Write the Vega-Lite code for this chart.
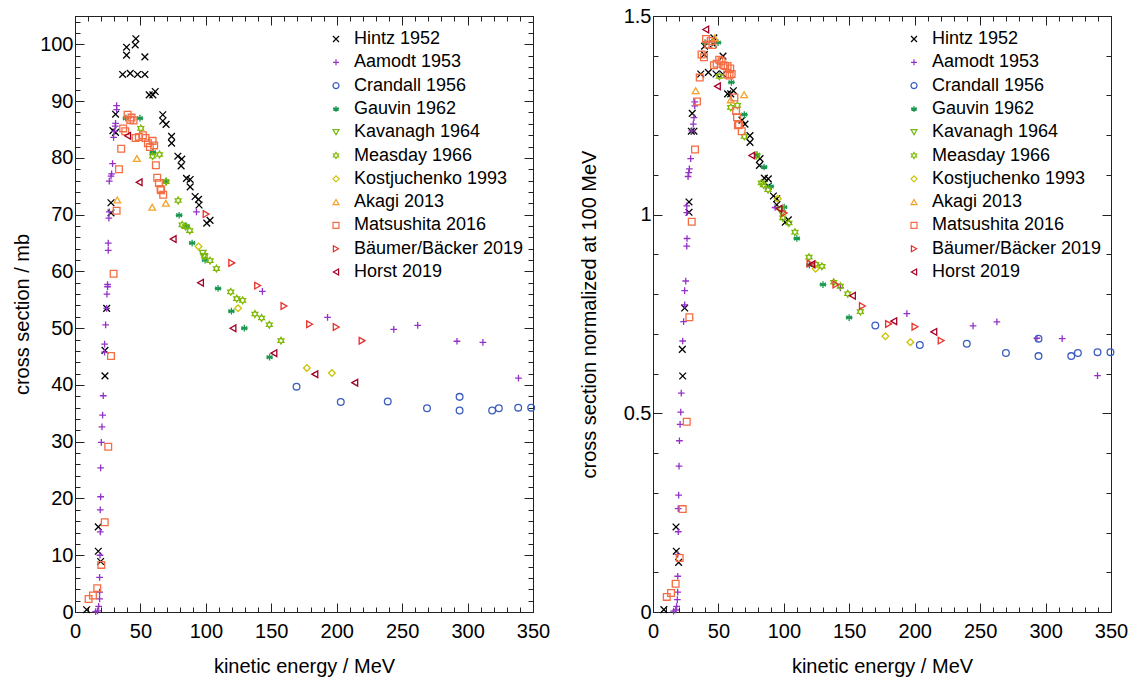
{
"$schema": "https://vega.github.io/schema/vega-lite/v6.json",
"padding": {"left": 12, "top": 5, "right": 5, "bottom": 5},
"config": {
  "font": "Liberation Sans",
  "view": {"stroke": "#222", "strokeWidth": 1},
  "axis": {"labelFont": "Liberation Sans", "titleFont": "Liberation Sans", "labelFontSize": 20, "titleFontSize": 20, "titleFontWeight": "normal", "labelColor": "#000", "titleColor": "#000", "domainColor": "#222", "tickColor": "#222", "grid": false, "labelOverlap": false, "labelFlush": false, "labelBound": false}
},
"datasets": {
"left": [
{"s":"Hintz 1952","E":8.9,"v":0.4},{"s":"Hintz 1952","E":17.8,"v":10.7},{"s":"Hintz 1952","E":17.8,"v":15.0},{"s":"Hintz 1952","E":19.6,"v":8.9},{"s":"Hintz 1952","E":22.9,"v":41.6},{"s":"Hintz 1952","E":22.9,"v":46.1},{"s":"Hintz 1952","E":24.2,"v":53.5},{"s":"Hintz 1952","E":27.5,"v":70.3},{"s":"Hintz 1952","E":27.5,"v":72.1},{"s":"Hintz 1952","E":29.0,"v":84.8},{"s":"Hintz 1952","E":31.0,"v":84.5},{"s":"Hintz 1952","E":31.0,"v":87.7},{"s":"Hintz 1952","E":36.4,"v":94.7},{"s":"Hintz 1952","E":39.4,"v":98.1},{"s":"Hintz 1952","E":39.4,"v":99.5},{"s":"Hintz 1952","E":42.2,"v":94.9},{"s":"Hintz 1952","E":46.0,"v":99.9},{"s":"Hintz 1952","E":46.5,"v":101.0},{"s":"Hintz 1952","E":47.8,"v":94.7},{"s":"Hintz 1952","E":53.4,"v":94.7},{"s":"Hintz 1952","E":53.4,"v":97.8},{"s":"Hintz 1952","E":56.7,"v":91.1},{"s":"Hintz 1952","E":59.5,"v":91.1},{"s":"Hintz 1952","E":61.3,"v":91.7},{"s":"Hintz 1952","E":67.1,"v":87.6},{"s":"Hintz 1952","E":67.1,"v":86.5},{"s":"Hintz 1952","E":69.6,"v":85.9},{"s":"Hintz 1952","E":73.8,"v":83.8},{"s":"Hintz 1952","E":73.8,"v":82.6},{"s":"Hintz 1952","E":78.6,"v":80.3},{"s":"Hintz 1952","E":81.6,"v":79.8},{"s":"Hintz 1952","E":81.1,"v":78.6},{"s":"Hintz 1952","E":85.2,"v":76.4},{"s":"Hintz 1952","E":88.0,"v":76.2},{"s":"Hintz 1952","E":88.0,"v":74.9},{"s":"Hintz 1952","E":91.8,"v":73.2},{"s":"Hintz 1952","E":94.4,"v":72.7},{"s":"Hintz 1952","E":94.8,"v":71.7},{"s":"Hintz 1952","E":100.7,"v":68.5},{"s":"Hintz 1952","E":103.2,"v":69.0},
{"s":"Aamodt 1953","E":15.8,"v":0.05},{"s":"Aamodt 1953","E":17.3,"v":0.2},{"s":"Aamodt 1953","E":18.1,"v":1.0},{"s":"Aamodt 1953","E":18.8,"v":2.3},{"s":"Aamodt 1953","E":18.8,"v":3.5},{"s":"Aamodt 1953","E":18.8,"v":6.1},{"s":"Aamodt 1953","E":19.1,"v":10.0},{"s":"Aamodt 1953","E":19.3,"v":14.1},{"s":"Aamodt 1953","E":19.3,"v":18.0},{"s":"Aamodt 1953","E":19.6,"v":20.3},{"s":"Aamodt 1953","E":19.6,"v":25.4},{"s":"Aamodt 1953","E":20.1,"v":29.9},{"s":"Aamodt 1953","E":20.6,"v":32.6},{"s":"Aamodt 1953","E":21.1,"v":34.7},{"s":"Aamodt 1953","E":21.6,"v":38.1},{"s":"Aamodt 1953","E":22.6,"v":45.8},{"s":"Aamodt 1953","E":22.6,"v":47.2},{"s":"Aamodt 1953","E":23.4,"v":50.6},{"s":"Aamodt 1953","E":24.2,"v":53.5},{"s":"Aamodt 1953","E":24.4,"v":56.0},{"s":"Aamodt 1953","E":24.9,"v":57.3},{"s":"Aamodt 1953","E":24.9,"v":57.7},{"s":"Aamodt 1953","E":25.4,"v":63.7},{"s":"Aamodt 1953","E":25.4,"v":65.0},{"s":"Aamodt 1953","E":25.9,"v":69.4},{"s":"Aamodt 1953","E":26.2,"v":70.5},{"s":"Aamodt 1953","E":26.2,"v":75.9},{"s":"Aamodt 1953","E":27.5,"v":76.8},{"s":"Aamodt 1953","E":28.0,"v":77.2},{"s":"Aamodt 1953","E":28.7,"v":79.0},{"s":"Aamodt 1953","E":29.5,"v":83.6},{"s":"Aamodt 1953","E":30.0,"v":84.7},{"s":"Aamodt 1953","E":30.8,"v":85.6},{"s":"Aamodt 1953","E":31.0,"v":86.1},{"s":"Aamodt 1953","E":31.8,"v":88.5},{"s":"Aamodt 1953","E":31.8,"v":89.2},{"s":"Aamodt 1953","E":92.8,"v":70.5},{"s":"Aamodt 1953","E":143.2,"v":56.5},{"s":"Aamodt 1953","E":193.0,"v":51.9},{"s":"Aamodt 1953","E":243.6,"v":49.8},{"s":"Aamodt 1953","E":261.9,"v":50.5},{"s":"Aamodt 1953","E":291.9,"v":47.7},{"s":"Aamodt 1953","E":311.7,"v":47.5},{"s":"Aamodt 1953","E":338.9,"v":41.2},
{"s":"Crandall 1956","E":169.3,"v":39.7},{"s":"Crandall 1956","E":203.1,"v":37.0},{"s":"Crandall 1956","E":239.0,"v":37.1},{"s":"Crandall 1956","E":269.0,"v":35.9},{"s":"Crandall 1956","E":293.9,"v":37.9},{"s":"Crandall 1956","E":293.9,"v":35.5},{"s":"Crandall 1956","E":318.8,"v":35.5},{"s":"Crandall 1956","E":323.9,"v":35.9},{"s":"Crandall 1956","E":338.7,"v":36.0},{"s":"Crandall 1956","E":348.6,"v":36.0},
{"s":"Gauvin 1962","E":38.9,"v":87.0},{"s":"Gauvin 1962","E":49.6,"v":87.0},{"s":"Gauvin 1962","E":59.5,"v":81.0},{"s":"Gauvin 1962","E":69.6,"v":75.9},{"s":"Gauvin 1962","E":79.6,"v":69.9},{"s":"Gauvin 1962","E":85.2,"v":68.0},{"s":"Gauvin 1962","E":89.5,"v":65.0},{"s":"Gauvin 1962","E":99.4,"v":62.0},{"s":"Gauvin 1962","E":109.3,"v":57.0},{"s":"Gauvin 1962","E":119.5,"v":53.0},{"s":"Gauvin 1962","E":129.4,"v":50.0},{"s":"Gauvin 1962","E":148.7,"v":44.9},
{"s":"Kavanagh 1964","E":97.6,"v":63.2},{"s":"Kavanagh 1964","E":98.4,"v":62.6},
{"s":"Measday 1966","E":50.3,"v":85.2},{"s":"Measday 1966","E":59.3,"v":80.3},{"s":"Measday 1966","E":64.6,"v":80.6},{"s":"Measday 1966","E":69.6,"v":75.8},{"s":"Measday 1966","E":78.8,"v":72.5},{"s":"Measday 1966","E":81.9,"v":68.2},{"s":"Measday 1966","E":84.4,"v":67.9},{"s":"Measday 1966","E":87.7,"v":67.2},{"s":"Measday 1966","E":99.2,"v":62.7},{"s":"Measday 1966","E":103.2,"v":61.9},{"s":"Measday 1966","E":108.1,"v":60.5},{"s":"Measday 1966","E":119.0,"v":56.4},{"s":"Measday 1966","E":123.6,"v":55.2},{"s":"Measday 1966","E":128.1,"v":54.9},{"s":"Measday 1966","E":137.5,"v":52.5},{"s":"Measday 1966","E":142.6,"v":51.8},{"s":"Measday 1966","E":148.5,"v":50.6},{"s":"Measday 1966","E":157.4,"v":47.8},
{"s":"Kostjuchenko 1993","E":94.4,"v":64.4},{"s":"Kostjuchenko 1993","E":124.6,"v":53.5},{"s":"Kostjuchenko 1993","E":177.2,"v":43.0},{"s":"Kostjuchenko 1993","E":196.3,"v":42.1},
{"s":"Akagi 2013","E":32.3,"v":72.6},{"s":"Akagi 2013","E":47.3,"v":79.9},{"s":"Akagi 2013","E":59.0,"v":71.3},{"s":"Akagi 2013","E":69.4,"v":72.0},
{"s":"Matsushita 2016","E":10.4,"v":2.3},{"s":"Matsushita 2016","E":13.7,"v":2.9},{"s":"Matsushita 2016","E":17.0,"v":4.2},{"s":"Matsushita 2016","E":20.1,"v":8.3},{"s":"Matsushita 2016","E":22.7,"v":15.8},{"s":"Matsushita 2016","E":25.4,"v":29.1},{"s":"Matsushita 2016","E":27.5,"v":45.1},{"s":"Matsushita 2016","E":29.5,"v":59.6},{"s":"Matsushita 2016","E":31.8,"v":70.7},{"s":"Matsushita 2016","E":33.6,"v":78.0},{"s":"Matsushita 2016","E":35.3,"v":81.6},{"s":"Matsushita 2016","E":36.8,"v":85.2},{"s":"Matsushita 2016","E":38.4,"v":84.7},{"s":"Matsushita 2016","E":40.2,"v":87.6},{"s":"Matsushita 2016","E":42.2,"v":86.7},{"s":"Matsushita 2016","E":43.2,"v":87.1},{"s":"Matsushita 2016","E":44.8,"v":86.6},{"s":"Matsushita 2016","E":46.3,"v":83.5},{"s":"Matsushita 2016","E":48.8,"v":83.7},{"s":"Matsushita 2016","E":51.9,"v":84.0},{"s":"Matsushita 2016","E":53.9,"v":83.5},{"s":"Matsushita 2016","E":55.7,"v":82.6},{"s":"Matsushita 2016","E":57.2,"v":81.9},{"s":"Matsushita 2016","E":59.3,"v":83.0},{"s":"Matsushita 2016","E":60.5,"v":82.2},{"s":"Matsushita 2016","E":61.8,"v":78.7},{"s":"Matsushita 2016","E":62.8,"v":76.5},{"s":"Matsushita 2016","E":64.1,"v":75.6},{"s":"Matsushita 2016","E":65.4,"v":74.5},{"s":"Matsushita 2016","E":65.8,"v":74.3},{"s":"Matsushita 2016","E":67.4,"v":73.5},
{"s":"Bäumer/Bäcker 2019","E":100.2,"v":70.1},{"s":"Bäumer/Bäcker 2019","E":119.8,"v":61.5},{"s":"Bäumer/Bäcker 2019","E":139.6,"v":57.5},{"s":"Bäumer/Bäcker 2019","E":159.7,"v":53.9},{"s":"Bäumer/Bäcker 2019","E":179.3,"v":50.7},{"s":"Bäumer/Bäcker 2019","E":199.6,"v":50.2},{"s":"Bäumer/Bäcker 2019","E":219.4,"v":47.8},
{"s":"Horst 2019","E":40.2,"v":83.9},{"s":"Horst 2019","E":49.0,"v":75.7},{"s":"Horst 2019","E":75.0,"v":65.7},{"s":"Horst 2019","E":95.9,"v":58.0},{"s":"Horst 2019","E":120.7,"v":50.0},{"s":"Horst 2019","E":152.0,"v":45.6},{"s":"Horst 2019","E":183.3,"v":41.9},{"s":"Horst 2019","E":213.8,"v":40.4}
],
"right": [
{"s":"Hintz 1952","E":8.3,"v":0.006},{"s":"Hintz 1952","E":17.6,"v":0.214},{"s":"Hintz 1952","E":17.8,"v":0.153},{"s":"Hintz 1952","E":19.6,"v":0.125},{"s":"Hintz 1952","E":22.4,"v":0.661},{"s":"Hintz 1952","E":22.7,"v":0.594},{"s":"Hintz 1952","E":24.2,"v":0.765},{"s":"Hintz 1952","E":27.5,"v":1.006},{"s":"Hintz 1952","E":27.5,"v":1.032},{"s":"Hintz 1952","E":29.3,"v":1.21},{"s":"Hintz 1952","E":31.3,"v":1.21},{"s":"Hintz 1952","E":30.0,"v":1.255},{"s":"Hintz 1952","E":36.5,"v":1.354},{"s":"Hintz 1952","E":39.2,"v":1.403},{"s":"Hintz 1952","E":39.4,"v":1.424},{"s":"Hintz 1952","E":42.3,"v":1.358},{"s":"Hintz 1952","E":46.0,"v":1.429},{"s":"Hintz 1952","E":46.5,"v":1.445},{"s":"Hintz 1952","E":48.2,"v":1.354},{"s":"Hintz 1952","E":53.3,"v":1.354},{"s":"Hintz 1952","E":53.5,"v":1.399},{"s":"Hintz 1952","E":57.0,"v":1.304},{"s":"Hintz 1952","E":59.4,"v":1.304},{"s":"Hintz 1952","E":61.4,"v":1.312},{"s":"Hintz 1952","E":68.0,"v":1.238},{"s":"Hintz 1952","E":70.3,"v":1.228},{"s":"Hintz 1952","E":74.1,"v":1.199},{"s":"Hintz 1952","E":74.1,"v":1.182},{"s":"Hintz 1952","E":81.8,"v":1.141},{"s":"Hintz 1952","E":81.3,"v":1.124},{"s":"Hintz 1952","E":85.1,"v":1.092},{"s":"Hintz 1952","E":88.1,"v":1.09},{"s":"Hintz 1952","E":88.1,"v":1.072},{"s":"Hintz 1952","E":92.0,"v":1.047},{"s":"Hintz 1952","E":94.6,"v":1.04},{"s":"Hintz 1952","E":94.6,"v":1.025},{"s":"Hintz 1952","E":101.1,"v":0.981},{"s":"Hintz 1952","E":103.4,"v":0.987},
{"s":"Aamodt 1953","E":15.8,"v":0.002},{"s":"Aamodt 1953","E":17.4,"v":0.005},{"s":"Aamodt 1953","E":18.1,"v":0.014},{"s":"Aamodt 1953","E":18.6,"v":0.031},{"s":"Aamodt 1953","E":18.9,"v":0.05},{"s":"Aamodt 1953","E":18.9,"v":0.09},{"s":"Aamodt 1953","E":18.9,"v":0.145},{"s":"Aamodt 1953","E":19.3,"v":0.202},{"s":"Aamodt 1953","E":19.3,"v":0.26},{"s":"Aamodt 1953","E":19.6,"v":0.294},{"s":"Aamodt 1953","E":19.9,"v":0.367},{"s":"Aamodt 1953","E":20.2,"v":0.431},{"s":"Aamodt 1953","E":20.7,"v":0.472},{"s":"Aamodt 1953","E":21.2,"v":0.503},{"s":"Aamodt 1953","E":21.6,"v":0.551},{"s":"Aamodt 1953","E":22.7,"v":0.682},{"s":"Aamodt 1953","E":23.4,"v":0.731},{"s":"Aamodt 1953","E":24.2,"v":0.773},{"s":"Aamodt 1953","E":24.2,"v":0.809},{"s":"Aamodt 1953","E":25.0,"v":0.833},{"s":"Aamodt 1953","E":25.8,"v":0.921},{"s":"Aamodt 1953","E":26.0,"v":0.94},{"s":"Aamodt 1953","E":25.8,"v":1.005},{"s":"Aamodt 1953","E":25.8,"v":1.022},{"s":"Aamodt 1953","E":26.8,"v":1.096},{"s":"Aamodt 1953","E":27.3,"v":1.106},{"s":"Aamodt 1953","E":27.8,"v":1.115},{"s":"Aamodt 1953","E":28.8,"v":1.141},{"s":"Aamodt 1953","E":29.6,"v":1.211},{"s":"Aamodt 1953","E":30.8,"v":1.228},{"s":"Aamodt 1953","E":31.3,"v":1.244},{"s":"Aamodt 1953","E":31.9,"v":1.274},{"s":"Aamodt 1953","E":31.9,"v":1.284},{"s":"Aamodt 1953","E":93.3,"v":1.018},{"s":"Aamodt 1953","E":143.2,"v":0.816},{"s":"Aamodt 1953","E":194.0,"v":0.751},{"s":"Aamodt 1953","E":244.6,"v":0.72},{"s":"Aamodt 1953","E":262.8,"v":0.73},{"s":"Aamodt 1953","E":293.4,"v":0.689},{"s":"Aamodt 1953","E":312.7,"v":0.688},{"s":"Aamodt 1953","E":339.7,"v":0.595},
{"s":"Crandall 1956","E":169.9,"v":0.721},{"s":"Crandall 1956","E":203.9,"v":0.672},{"s":"Crandall 1956","E":239.8,"v":0.675},{"s":"Crandall 1956","E":269.7,"v":0.652},{"s":"Crandall 1956","E":294.6,"v":0.688},{"s":"Crandall 1956","E":294.6,"v":0.644},{"s":"Crandall 1956","E":319.6,"v":0.644},{"s":"Crandall 1956","E":324.7,"v":0.652},{"s":"Crandall 1956","E":339.7,"v":0.654},{"s":"Crandall 1956","E":349.6,"v":0.654},
{"s":"Gauvin 1962","E":39.8,"v":1.433},{"s":"Gauvin 1962","E":49.7,"v":1.433},{"s":"Gauvin 1962","E":59.9,"v":1.333},{"s":"Gauvin 1962","E":69.8,"v":1.252},{"s":"Gauvin 1962","E":79.5,"v":1.151},{"s":"Gauvin 1962","E":84.9,"v":1.12},{"s":"Gauvin 1962","E":90.0,"v":1.071},{"s":"Gauvin 1962","E":100.2,"v":1.019},{"s":"Gauvin 1962","E":109.9,"v":0.94},{"s":"Gauvin 1962","E":119.5,"v":0.873},{"s":"Gauvin 1962","E":129.9,"v":0.824},{"s":"Gauvin 1962","E":149.9,"v":0.741},
{"s":"Kavanagh 1964","E":97.6,"v":1.012},{"s":"Kavanagh 1964","E":98.6,"v":1.003},
{"s":"Measday 1966","E":50.7,"v":1.348},{"s":"Measday 1966","E":59.4,"v":1.27},{"s":"Measday 1966","E":64.5,"v":1.275},{"s":"Measday 1966","E":69.8,"v":1.197},{"s":"Measday 1966","E":79.3,"v":1.149},{"s":"Measday 1966","E":82.8,"v":1.08},{"s":"Measday 1966","E":84.4,"v":1.075},{"s":"Measday 1966","E":87.9,"v":1.063},{"s":"Measday 1966","E":99.2,"v":0.992},{"s":"Measday 1966","E":103.9,"v":0.979},{"s":"Measday 1966","E":108.5,"v":0.956},{"s":"Measday 1966","E":119.2,"v":0.893},{"s":"Measday 1966","E":124.3,"v":0.875},{"s":"Measday 1966","E":129.1,"v":0.87},{"s":"Measday 1966","E":138.1,"v":0.83},{"s":"Measday 1966","E":143.2,"v":0.82},{"s":"Measday 1966","E":148.8,"v":0.801},{"s":"Measday 1966","E":158.5,"v":0.756},
{"s":"Kostjuchenko 1993","E":95.3,"v":1.04},{"s":"Kostjuchenko 1993","E":124.3,"v":0.864},{"s":"Kostjuchenko 1993","E":177.6,"v":0.694},{"s":"Kostjuchenko 1993","E":196.7,"v":0.679},
{"s":"Akagi 2013","E":32.6,"v":1.312},{"s":"Akagi 2013","E":47.2,"v":1.445},{"s":"Akagi 2013","E":59.4,"v":1.289},{"s":"Akagi 2013","E":69.6,"v":1.302},
{"s":"Matsushita 2016","E":10.5,"v":0.038},{"s":"Matsushita 2016","E":13.8,"v":0.048},{"s":"Matsushita 2016","E":17.3,"v":0.071},{"s":"Matsushita 2016","E":20.4,"v":0.136},{"s":"Matsushita 2016","E":22.7,"v":0.259},{"s":"Matsushita 2016","E":25.8,"v":0.479},{"s":"Matsushita 2016","E":27.8,"v":0.742},{"s":"Matsushita 2016","E":29.6,"v":0.982},{"s":"Matsushita 2016","E":32.1,"v":1.164},{"s":"Matsushita 2016","E":33.6,"v":1.285},{"s":"Matsushita 2016","E":35.7,"v":1.345},{"s":"Matsushita 2016","E":37.1,"v":1.403},{"s":"Matsushita 2016","E":38.9,"v":1.396},{"s":"Matsushita 2016","E":40.5,"v":1.442},{"s":"Matsushita 2016","E":42.3,"v":1.428},{"s":"Matsushita 2016","E":44.1,"v":1.437},{"s":"Matsushita 2016","E":45.4,"v":1.427},{"s":"Matsushita 2016","E":46.6,"v":1.376},{"s":"Matsushita 2016","E":48.6,"v":1.38},{"s":"Matsushita 2016","E":50.6,"v":1.39},{"s":"Matsushita 2016","E":52.4,"v":1.386},{"s":"Matsushita 2016","E":53.9,"v":1.376},{"s":"Matsushita 2016","E":55.2,"v":1.374},{"s":"Matsushita 2016","E":56.7,"v":1.353},{"s":"Matsushita 2016","E":57.0,"v":1.374},{"s":"Matsushita 2016","E":58.5,"v":1.35},{"s":"Matsushita 2016","E":59.0,"v":1.368},{"s":"Matsushita 2016","E":60.1,"v":1.354},{"s":"Matsushita 2016","E":62.2,"v":1.295},{"s":"Matsushita 2016","E":63.5,"v":1.261},{"s":"Matsushita 2016","E":64.2,"v":1.245},{"s":"Matsushita 2016","E":64.9,"v":1.225},{"s":"Matsushita 2016","E":65.7,"v":1.227},{"s":"Matsushita 2016","E":67.8,"v":1.21},
{"s":"Bäumer/Bäcker 2019","E":100.3,"v":1.004},{"s":"Bäumer/Bäcker 2019","E":120.0,"v":0.877},{"s":"Bäumer/Bäcker 2019","E":139.8,"v":0.824},{"s":"Bäumer/Bäcker 2019","E":160.0,"v":0.77},{"s":"Bäumer/Bäcker 2019","E":180.0,"v":0.725},{"s":"Bäumer/Bäcker 2019","E":200.2,"v":0.718},{"s":"Bäumer/Bäcker 2019","E":220.2,"v":0.683},
{"s":"Horst 2019","E":40.3,"v":1.466},{"s":"Horst 2019","E":49.2,"v":1.323},{"s":"Horst 2019","E":75.5,"v":1.149},{"s":"Horst 2019","E":96.3,"v":1.015},{"s":"Horst 2019","E":121.3,"v":0.875},{"s":"Horst 2019","E":152.4,"v":0.796},{"s":"Horst 2019","E":184.0,"v":0.732},{"s":"Horst 2019","E":214.6,"v":0.705}
]
},
"hconcat": [
{
  "width": 458, "height": 596,
  "data": {"name": "left"},
  "layer": [
    {
      "mark": {"type": "point", "filled": false, "size": 45, "strokeWidth": 1.3, "opacity": 1},
      "encoding": {
        "x": {"field": "E", "type": "quantitative", "scale": {"domain": [0, 350], "nice": false, "zero": false},
              "axis": {"orient": "bottom", "title": "kinetic energy / MeV", "values": [0,10,20,30,40,50,60,70,80,90,100,110,120,130,140,150,160,170,180,190,200,210,220,230,240,250,260,270,280,290,300,310,320,330,340,350],
                       "tickSize": {"condition": {"test": "datum.value % 50 === 0", "value": -9}, "value": -5},
                       "labelExpr": "datum.value % 50 === 0 ? datum.label : ''", "labelPadding": 18, "titlePadding": 11}},
        "y": {"field": "v", "type": "quantitative", "scale": {"domain": [0, 105], "nice": false, "zero": false},
              "axis": {"orient": "left", "title": "cross section / mb", "values": [0,2,4,6,8,10,12,14,16,18,20,22,24,26,28,30,32,34,36,38,40,42,44,46,48,50,52,54,56,58,60,62,64,66,68,70,72,74,76,78,80,82,84,86,88,90,92,94,96,98,100,102,104],
                       "tickSize": {"condition": {"test": "datum.value % 10 === 0", "value": -9}, "value": -5},
                       "labelExpr": "datum.value % 10 === 0 ? datum.label : ''", "labelPadding": 11, "titlePadding": 7}},
        "color": {"field": "s", "type": "nominal",
                  "scale": {"domain": ["Hintz 1952","Aamodt 1953","Crandall 1956","Gauvin 1962","Kavanagh 1964","Measday 1966","Kostjuchenko 1993","Akagi 2013","Matsushita 2016","Bäumer/Bäcker 2019","Horst 2019"],
                            "range": ["#000000","#9432c8","#3a5dbf","#1a9850","#74b816","#7cb800","#c9c400","#f4a32a","#f46d43","#e8302a","#a50026"]},
                  "legend": {"title": null, "orient": "none", "legendX": 252, "legendY": 14, "labelFontSize": 18, "labelLimit": 400, "labelFont": "Liberation Sans", "labelColor": "#000", "symbolSize": 36, "symbolStrokeWidth": 1.2, "symbolOpacity": 1, "rowPadding": 5.3, "labelOffset": 9, "padding": 0}},
        "shape": {"field": "s", "type": "nominal",
                  "scale": {"domain": ["Hintz 1952","Aamodt 1953","Crandall 1956","Gauvin 1962","Kavanagh 1964","Measday 1966","Kostjuchenko 1993","Akagi 2013","Matsushita 2016","Bäumer/Bäcker 2019","Horst 2019"],
                            "range": ["M-1,-1L1,1M-1,1L1,-1","M-1,0L1,0M0,-1L0,1","circle","M0,-1L0,1M-0.866,-0.5L0.866,0.5M-0.866,0.5L0.866,-0.5M-1,0L1,0","triangle-down","M0,-1L0.289,-0.5L0.866,-0.5L0.577,0L0.866,0.5L0.289,0.5L0,1L-0.289,0.5L-0.866,0.5L-0.577,0L-0.866,-0.5L-0.289,-0.5Z","diamond","triangle-up","square","triangle-right","triangle-left"]},
                  "legend": {"title": null, "orient": "none", "legendX": 252, "legendY": 14, "labelFontSize": 18, "labelLimit": 400, "labelFont": "Liberation Sans", "labelColor": "#000", "symbolSize": 36, "symbolStrokeWidth": 1.2, "symbolOpacity": 1, "rowPadding": 5.3, "labelOffset": 9, "padding": 0}}
      }
    },
    {
      "mark": {"type": "point", "opacity": 0},
      "encoding": {
        "x": {"field": "E", "type": "quantitative", "scale": {"domain": [0, 350], "nice": false, "zero": false},
              "axis": {"orient": "top", "title": null, "labels": false, "values": [0,10,20,30,40,50,60,70,80,90,100,110,120,130,140,150,160,170,180,190,200,210,220,230,240,250,260,270,280,290,300,310,320,330,340,350],
                       "tickSize": {"condition": {"test": "datum.value % 50 === 0", "value": -9}, "value": -5}}},
        "y": {"field": "v", "type": "quantitative", "scale": {"domain": [0, 105], "nice": false, "zero": false},
              "axis": {"orient": "right", "title": null, "labels": false, "values": [0,2,4,6,8,10,12,14,16,18,20,22,24,26,28,30,32,34,36,38,40,42,44,46,48,50,52,54,56,58,60,62,64,66,68,70,72,74,76,78,80,82,84,86,88,90,92,94,96,98,100,102,104],
                       "tickSize": {"condition": {"test": "datum.value % 10 === 0", "value": -9}, "value": -5}}}
      }
    }
  ],
  "resolve": {"axis": {"x": "independent", "y": "independent"}}
},
{
  "width": 458, "height": 596,
  "data": {"name": "right"},
  "layer": [
    {
      "mark": {"type": "point", "filled": false, "size": 45, "strokeWidth": 1.3, "opacity": 1},
      "encoding": {
        "x": {"field": "E", "type": "quantitative", "scale": {"domain": [0, 350], "nice": false, "zero": false},
              "axis": {"orient": "bottom", "title": "kinetic energy / MeV", "values": [0,10,20,30,40,50,60,70,80,90,100,110,120,130,140,150,160,170,180,190,200,210,220,230,240,250,260,270,280,290,300,310,320,330,340,350],
                       "tickSize": {"condition": {"test": "datum.value % 50 === 0", "value": -9}, "value": -5},
                       "labelExpr": "datum.value % 50 === 0 ? datum.label : ''", "labelPadding": 18, "titlePadding": 11}},
        "y": {"field": "v", "type": "quantitative", "scale": {"domain": [0, 1.5], "nice": false, "zero": false},
              "axis": {"orient": "left", "title": "cross section normalized at 100 MeV", "values": [0,0.1,0.2,0.3,0.4,0.5,0.6,0.7,0.8,0.9,1,1.1,1.2,1.3,1.4,1.5],
                       "tickSize": {"condition": {"test": "abs(datum.value*2 - round(datum.value*2)) < 1e-9", "value": -9}, "value": -5},
                       "labelExpr": "abs(datum.value*2 - round(datum.value*2)) < 1e-9 ? format(datum.value, '~g') : ''", "labelPadding": 11, "titlePadding": 24}},
        "color": {"field": "s", "type": "nominal",
                  "scale": {"domain": ["Hintz 1952","Aamodt 1953","Crandall 1956","Gauvin 1962","Kavanagh 1964","Measday 1966","Kostjuchenko 1993","Akagi 2013","Matsushita 2016","Bäumer/Bäcker 2019","Horst 2019"],
                            "range": ["#000000","#9432c8","#3a5dbf","#1a9850","#74b816","#7cb800","#c9c400","#f4a32a","#f46d43","#e8302a","#a50026"]},
                  "legend": {"title": null, "orient": "none", "legendX": 252, "legendY": 14, "labelFontSize": 18, "labelLimit": 400, "labelFont": "Liberation Sans", "labelColor": "#000", "symbolSize": 36, "symbolStrokeWidth": 1.2, "symbolOpacity": 1, "rowPadding": 5.3, "labelOffset": 9, "padding": 0}},
        "shape": {"field": "s", "type": "nominal",
                  "scale": {"domain": ["Hintz 1952","Aamodt 1953","Crandall 1956","Gauvin 1962","Kavanagh 1964","Measday 1966","Kostjuchenko 1993","Akagi 2013","Matsushita 2016","Bäumer/Bäcker 2019","Horst 2019"],
                            "range": ["M-1,-1L1,1M-1,1L1,-1","M-1,0L1,0M0,-1L0,1","circle","M0,-1L0,1M-0.866,-0.5L0.866,0.5M-0.866,0.5L0.866,-0.5M-1,0L1,0","triangle-down","M0,-1L0.289,-0.5L0.866,-0.5L0.577,0L0.866,0.5L0.289,0.5L0,1L-0.289,0.5L-0.866,0.5L-0.577,0L-0.866,-0.5L-0.289,-0.5Z","diamond","triangle-up","square","triangle-right","triangle-left"]},
                  "legend": {"title": null, "orient": "none", "legendX": 252, "legendY": 14, "labelFontSize": 18, "labelLimit": 400, "labelFont": "Liberation Sans", "labelColor": "#000", "symbolSize": 36, "symbolStrokeWidth": 1.2, "symbolOpacity": 1, "rowPadding": 5.3, "labelOffset": 9, "padding": 0}}
      }
    },
    {
      "mark": {"type": "point", "opacity": 0},
      "encoding": {
        "x": {"field": "E", "type": "quantitative", "scale": {"domain": [0, 350], "nice": false, "zero": false},
              "axis": {"orient": "top", "title": null, "labels": false, "values": [0,10,20,30,40,50,60,70,80,90,100,110,120,130,140,150,160,170,180,190,200,210,220,230,240,250,260,270,280,290,300,310,320,330,340,350],
                       "tickSize": {"condition": {"test": "datum.value % 50 === 0", "value": -9}, "value": -5}}},
        "y": {"field": "v", "type": "quantitative", "scale": {"domain": [0, 1.5], "nice": false, "zero": false},
              "axis": {"orient": "right", "title": null, "labels": false, "values": [0,0.1,0.2,0.3,0.4,0.5,0.6,0.7,0.8,0.9,1,1.1,1.2,1.3,1.4,1.5],
                       "tickSize": {"condition": {"test": "abs(datum.value*2 - round(datum.value*2)) < 1e-9", "value": -9}, "value": -5}}}
      }
    }
  ],
  "resolve": {"axis": {"x": "independent", "y": "independent"}}
}
],
"spacing": 27,
"resolve": {"scale": {"color": "independent", "shape": "independent"}, "legend": {"color": "independent", "shape": "independent"}}
}
